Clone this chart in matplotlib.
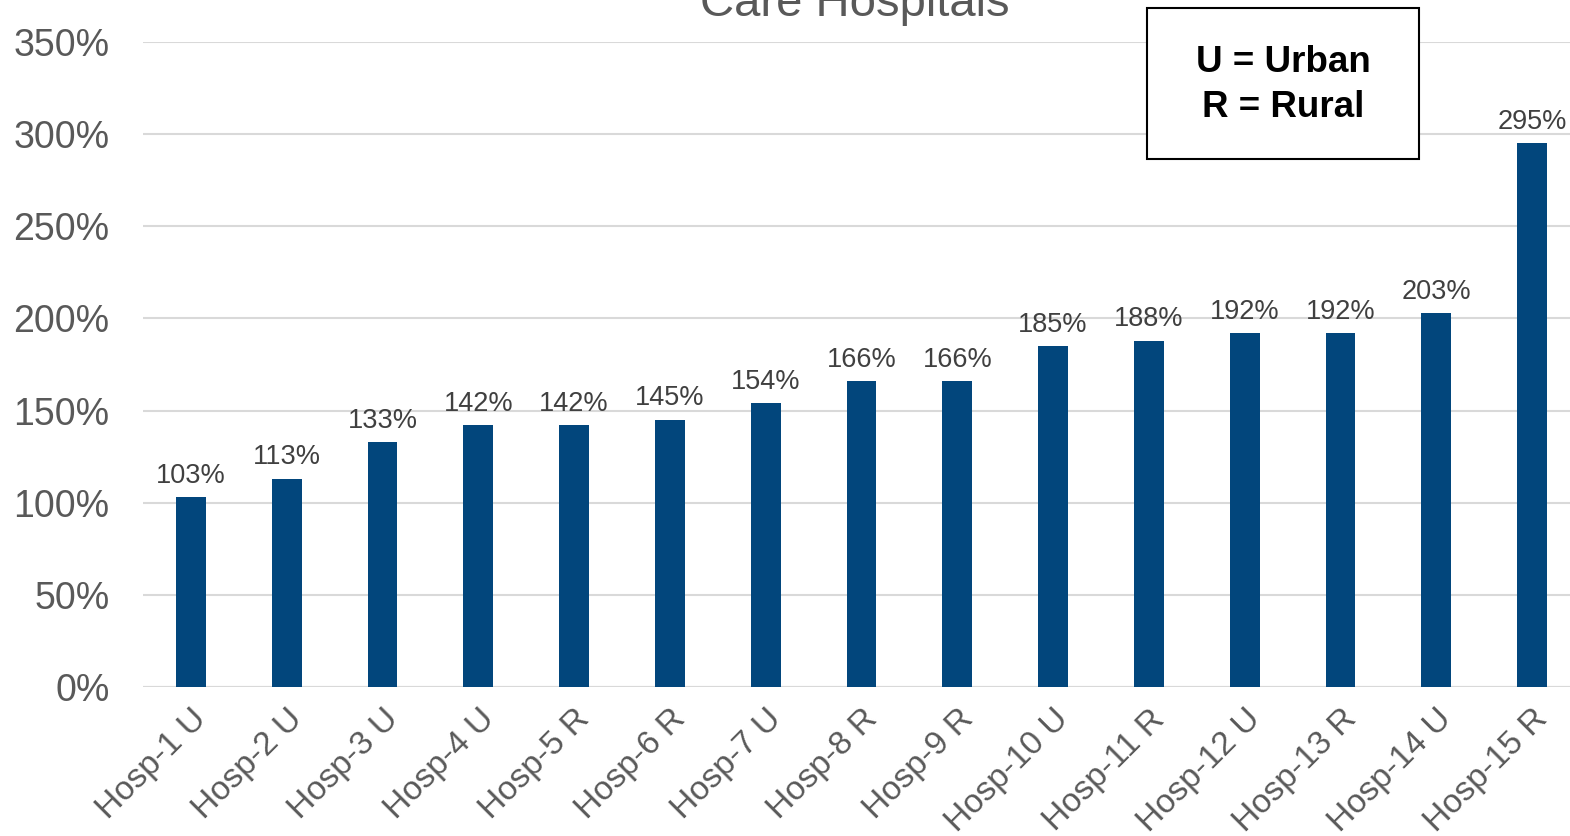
import matplotlib
matplotlib.use("Agg")
import matplotlib.pyplot as plt
from matplotlib.ticker import FuncFormatter

plt.rcParams["font.family"] = ["Liberation Sans", "DejaVu Sans"]

hospitals = ["Hosp-1 U", "Hosp-2 U", "Hosp-3 U", "Hosp-4 U", "Hosp-5 R",
             "Hosp-6 R", "Hosp-7 U", "Hosp-8 R", "Hosp-9 R", "Hosp-10 U",
             "Hosp-11 R", "Hosp-12 U", "Hosp-13 R", "Hosp-14 U", "Hosp-15 R"]
ratios = [103, 113, 133, 142, 142, 145, 154, 166, 166, 185, 188, 192, 192, 203, 295]
y_ticks = [0, 50, 100, 150, 200, 250, 300, 350]

bar_color = "#02467C"
text_gray = "#595959"

fig = plt.figure(figsize=(15.7, 8.36), dpi=100)
ax = fig.add_axes([143 / 1570, 1 - 687 / 836, 1437 / 1570, 645 / 836])

x = list(range(len(hospitals)))
bars = ax.bar(x, ratios, width=0.31, color=bar_color, zorder=3)

for xi, v in zip(x, ratios):
    ax.annotate(f"{v}%", (xi, v), xytext=(0, 6), textcoords="offset points",
                ha="center", va="bottom", fontsize=19.5, color="#404040")

ax.set_xlim(-0.5, len(hospitals) - 0.5)
ax.set_ylim(0, 350)
ax.set_yticks(y_ticks)
ax.yaxis.set_major_formatter(FuncFormatter(lambda v, p: f"{v:.0f}%"))
ax.grid(axis="y", color="#D9D9D9", linewidth=1.5, zorder=0)
for s in ["top", "right", "left", "bottom"]:
    ax.spines[s].set_visible(False)
ax.axhline(0, color="#D9D9D9", linewidth=1.5, zorder=2)

ax.tick_params(axis="y", length=0, pad=24, labelsize=27, labelcolor=text_gray)
ax.tick_params(axis="x", length=0, pad=12, labelsize=24, labelcolor=text_gray)
ax.set_xticks(x)
ax.set_xticklabels(hospitals, rotation=45, ha="right", va="top", rotation_mode="anchor")

# title is partly cut off at the top edge, as in the source image
fig.text(855 / 1570, 1 - 16 / 836, "Care Hospitals", ha="center", va="baseline",
         fontsize=34, color=text_gray)

box = plt.Rectangle((1147 / 1570, 1 - 159 / 836), 272 / 1570, 151 / 836,
                    transform=fig.transFigure, fill=True, fc="white", ec="black",
                    linewidth=1.5, zorder=5)
fig.add_artist(box)
legend_txt = fig.text(1283 / 1570, 1 - 85 / 836, "U = Urban\nR = Rural", ha="center",
                      va="center", fontsize=26.5, fontweight="bold", color="black",
                      linespacing=1.4)
legend_txt.set_zorder(6)

fig.savefig("out.png", dpi=100)
